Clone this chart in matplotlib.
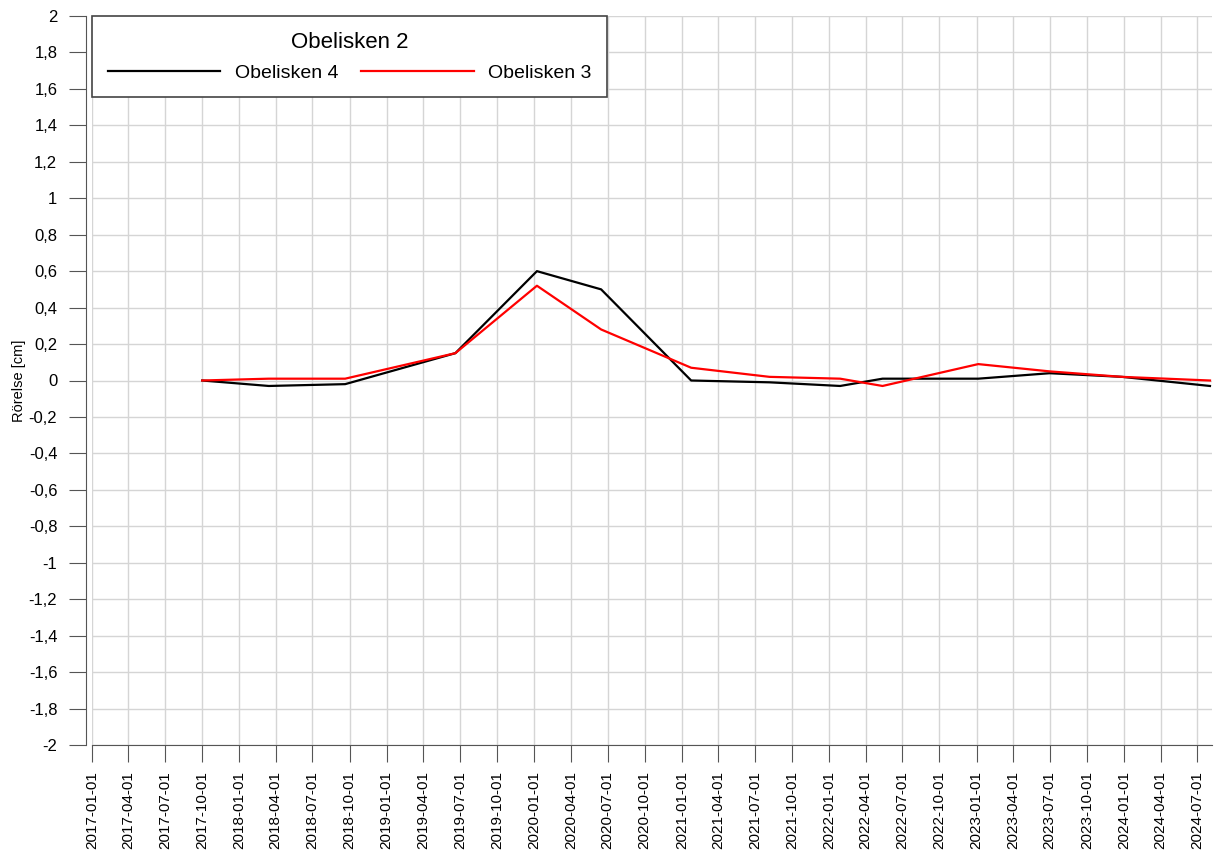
import numpy as np
import pandas as pd
import matplotlib
matplotlib.use("Agg")
import matplotlib.pyplot as plt
import matplotlib.dates as mdates
from matplotlib.ticker import FuncFormatter, MultipleLocator

plt.rcParams['font.family'] = ['Liberation Sans', 'DejaVu Sans']

# mätdatum
datum = pd.to_datetime([
    "2017-10-01", "2018-03-15", "2018-09-20", "2019-06-20", "2020-01-08",
    "2020-06-15", "2021-01-24", "2021-08-06", "2022-01-28", "2022-05-13",
    "2023-01-05", "2023-07-01", "2023-12-27", "2024-08-01",
])
obelisk4 = [0.0, -0.03, -0.02, 0.15, 0.60, 0.50, 0.0, -0.01, -0.03, 0.01,
            0.01, 0.04, 0.02, -0.03]
obelisk3 = [0.0, 0.01, 0.01, 0.15, 0.52, 0.28, 0.07, 0.02, 0.01, -0.03,
            0.09, 0.05, 0.02, 0.0]

titel = "Obelisken 2"
namn4 = "Obelisken 4"
namn3 = "Obelisken 3"

fig = plt.figure(figsize=(12.15, 8.6), dpi=100)
ax = fig.add_axes([92/1215, 1-745/860, (1212-92)/1215, (745-16)/860])

ax.plot(datum, obelisk4, color="black", lw=1.6, label=namn4)
ax.plot(datum, obelisk3, color="red", lw=1.6, label=namn3)

ax.set_xlim(pd.Timestamp("2017-01-01"), pd.Timestamp("2024-08-06"))
ax.set_ylim(-2, 2)
ax.yaxis.set_major_locator(MultipleLocator(0.2))
ax.yaxis.set_major_formatter(FuncFormatter(lambda v, p: f"{round(v, 1):g}".replace(".", ",")))
ax.xaxis.set_major_locator(mdates.MonthLocator(bymonth=[1, 4, 7, 10]))
ax.xaxis.set_major_formatter(mdates.DateFormatter("%Y-%m-%d"))
plt.setp(ax.get_xticklabels(), rotation=90)

ax.grid(True, color="#d5d5d5", lw=1)
ax.set_axisbelow(True)
for s in ["top", "right"]:
    ax.spines[s].set_visible(False)
ax.spines["left"].set_position(("outward", 4))
for s in ["left", "bottom"]:
    ax.spines[s].set_color("#555555")
ax.tick_params(axis="y", length=12, color="#555555", labelsize=12, pad=9)
ax.tick_params(axis="x", length=12, color="#555555", labelsize=11, pad=7)
ax.set_ylabel("Rörelse [cm]", fontsize=10.5)
ax.yaxis.set_label_coords(-0.059, 0.5)

leg = ax.legend(loc="upper left", bbox_to_anchor=(0, 1), borderaxespad=0,
                ncol=2, title=titel, fontsize=14, title_fontsize=16,
                handlelength=5.8, handletextpad=0.75, columnspacing=1.15,
                borderpad=0.8, labelspacing=0.6,
                fancybox=False, framealpha=1, edgecolor="#444444")
leg.get_frame().set_linewidth(1.2)

fig.savefig("out.png", dpi=100)
